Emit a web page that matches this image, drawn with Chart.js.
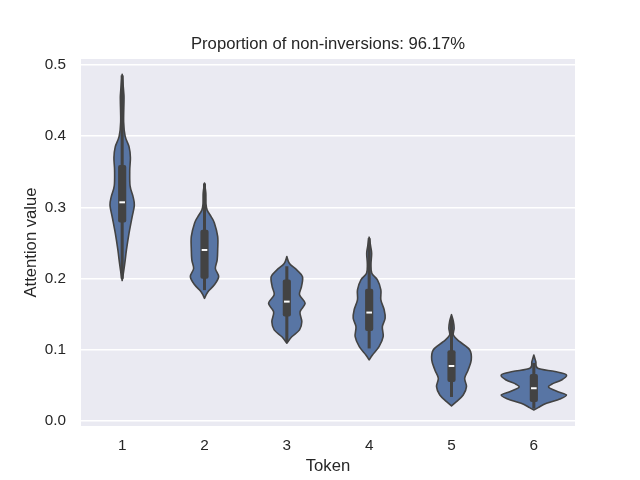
<!DOCTYPE html>
<html><head><meta charset="utf-8">
<script src="https://cdn.jsdelivr.net/npm/chart.js@4"></script>
<style>html,body{margin:0;padding:0;background:#fff}</style>
</head><body>
<canvas id="c" width="640" height="480"></canvas>
<script>
const tokens = ['1', '2', '3', '4', '5', '6'];
const yTickValues = [0, 0.1, 0.2, 0.3, 0.4, 0.5];

// violin outlines: attention values (top to bottom) and relative density at each
const token1Values  = [0.487, 0.46, 0.45, 0.42, 0.40, 0.385, 0.37, 0.352, 0.33, 0.315, 0.303, 0.286, 0.264, 0.24, 0.225, 0.21, 0.197];
const token1Density = [0, 0.05, 0.055, 0.045, 0.09, 0.21, 0.25, 0.23, 0.24, 0.33, 0.37, 0.30, 0.21, 0.13, 0.09, 0.045, 0];
const token2Values  = [0.334, 0.32, 0.305, 0.296, 0.287, 0.278, 0.259, 0.24, 0.226, 0.214, 0.2025, 0.191, 0.181, 0.172];
const token2Density = [0, 0.04, 0.045, 0.08, 0.2, 0.3, 0.4, 0.4, 0.385, 0.33, 0.43, 0.3, 0.1, 0];
const token3Values  = [0.2307, 0.221, 0.212, 0.2025, 0.1885, 0.177, 0.165, 0.153, 0.139, 0.1276, 0.118, 0.109];
const token3Density = [0, 0.08, 0.3, 0.475, 0.445, 0.385, 0.555, 0.4, 0.455, 0.385, 0.15, 0];
const token4Values  = [0.258, 0.245, 0.235, 0.22, 0.2073, 0.198, 0.184, 0.17, 0.156, 0.144, 0.132, 0.118, 0.104, 0.0924, 0.0854];
const token4Density = [0, 0.045, 0.075, 0.055, 0.08, 0.25, 0.355, 0.355, 0.455, 0.485, 0.4, 0.425, 0.3, 0.1, 0];
const token5Values  = [0.149, 0.14, 0.13, 0.12, 0.111, 0.0994, 0.0854, 0.0713, 0.0596, 0.0478, 0.036, 0.0267, 0.0207];
const token5Density = [0, 0.055, 0.08, 0.06, 0.25, 0.555, 0.6, 0.505, 0.4, 0.455, 0.355, 0.15, 0];
const token6Values  = [0.0924, 0.083, 0.0736, 0.069, 0.0643, 0.0572, 0.0512, 0.0465, 0.0408, 0.0361, 0.0305, 0.0244, 0.0183, 0.015];
const token6Density = [0, 0.06, 0.12, 0.64, 0.99, 0.84, 0.54, 0.455, 0.73, 0.99, 0.79, 0.385, 0.13, 0];

// inner box statistics
const q1Values     = [0.279, 0.200, 0.147, 0.1266, 0.0549, 0.0267];
const medianValues = [0.307, 0.240, 0.1674, 0.152, 0.0769, 0.0456];
const q3Values     = [0.359, 0.268, 0.198, 0.185, 0.0985, 0.0652];
const whiskerLow   = [0.200, 0.184, 0.111, 0.102, 0.0338, 0.0174];
const whiskerHigh  = [0.485, 0.333, 0.2166, 0.256, 0.145, 0.0807];

const violinValues  = [token1Values, token2Values, token3Values, token4Values, token5Values, token6Values];
const violinDensity = [token1Density, token2Density, token3Density, token4Density, token5Density, token6Density];

const FONT = "'Liberation Sans', Arial, sans-serif";
const TEXT = '#262626';
const GRAY = '#434343';
Chart.defaults.font.family = FONT;
Chart.defaults.color = TEXT;

function spline(ctx, pts, moveFirst) {
  if (moveFirst) ctx.moveTo(pts[0][0], pts[0][1]); else ctx.lineTo(pts[0][0], pts[0][1]);
  for (let i = 0; i < pts.length - 1; i++) {
    const p0 = pts[Math.max(i - 1, 0)], p1 = pts[i], p2 = pts[i + 1], p3 = pts[Math.min(i + 2, pts.length - 1)];
    const c1x = p1[0] + (p2[0] - p0[0]) / 6, c1y = p1[1] + (p2[1] - p0[1]) / 6;
    const c2x = p2[0] - (p3[0] - p1[0]) / 6, c2y = p2[1] - (p3[1] - p1[1]) / 6;
    ctx.bezierCurveTo(c1x, c1y, c2x, c2y, p2[0], p2[1]);
  }
}

const violinPlugin = {
  id: 'violins',
  beforeDraw(chart) {
    const {ctx, chartArea: a} = chart;
    ctx.save();
    ctx.fillStyle = '#EAEAF2';
    ctx.fillRect(a.left, a.top, a.right - a.left, a.bottom - a.top);
    ctx.restore();
  },
  beforeDatasetsDraw(chart) {
    const xs = chart.scales.x, ys = chart.scales.y, ctx = chart.ctx;
    const slot = xs.getPixelForValue(1) - xs.getPixelForValue(0);
    const maxHalf = slot * 0.4;
    ctx.save();
    violinValues.forEach((vals, i) => {
      const cx = xs.getPixelForValue(i);
      const right = vals.map((v, k) => [cx + violinDensity[i][k] * maxHalf, ys.getPixelForValue(v)]);
      const left = vals.map((v, k) => [cx - violinDensity[i][k] * maxHalf, ys.getPixelForValue(v)]).reverse();
      ctx.beginPath();
      spline(ctx, right, true);
      spline(ctx, left, false);
      ctx.closePath();
      ctx.fillStyle = '#5875A4';
      ctx.fill();
      ctx.lineWidth = 1.6;
      ctx.lineJoin = 'round';
      ctx.strokeStyle = GRAY;
      ctx.stroke();
    });
    ctx.restore();
  }
};

new Chart(document.getElementById('c'), {
  type: 'bar',
  data: {
    labels: tokens,
    datasets: [
      {
        label: 'whisker',
        data: whiskerLow.map((l, i) => [l, whiskerHigh[i]]),
        backgroundColor: GRAY,
        barThickness: 2.4,
        grouped: false,
        order: 3
      },
      {
        label: 'box',
        data: q1Values.map((q, i) => [q, q3Values[i]]),
        backgroundColor: GRAY,
        barThickness: 7.5,
        borderRadius: 2,
        borderSkipped: false,
        grouped: false,
        order: 2
      },
      {
        type: 'line',
        label: 'median',
        data: medianValues,
        showLine: false,
        pointStyle: 'line',
        pointRadius: 2.8,
        pointBorderWidth: 2,
        pointBorderColor: '#ffffff',
        borderColor: '#ffffff',
        order: 1
      }
    ]
  },
  options: {
    responsive: false,
    animation: false,
    events: [],
    layout: {padding: {left: 0, right: 65, top: 0, bottom: 0}},
    plugins: {
      legend: {display: false},
      tooltip: {enabled: false},
      title: {
        display: true,
        text: 'Proportion of non-inversions: 96.17%',
        fullSize: false,
        color: TEXT,
        font: {family: FONT, size: 16.67, weight: 'normal'},
        padding: {top: 34, bottom: 5}
      }
    },
    scales: {
      x: {
        type: 'category',
        grid: {display: false, drawTicks: false},
        border: {display: false},
        ticks: {color: TEXT, font: {family: FONT, size: 15.3}, padding: 11},
        title: {display: true, text: 'Token', color: TEXT, font: {family: FONT, size: 16.67}, padding: {top: 0, bottom: 4}},
        afterFit: s => { s.height = 54; }
      },
      y: {
        type: 'linear',
        min: -0.0075,
        max: 0.5085,
        afterBuildTicks: s => { s.ticks = yTickValues.map(v => ({value: v})); },
        grid: {color: '#ffffff', lineWidth: 1.4, drawTicks: false},
        border: {display: false},
        ticks: {color: TEXT, font: {family: FONT, size: 15.3}, padding: 15, callback: v => Number(v).toFixed(1)},
        title: {display: true, text: 'Attention value', color: TEXT, font: {family: FONT, size: 16.67}, padding: {top: 21, bottom: 0}},
        afterFit: s => { s.width = 81; }
      }
    }
  },
  plugins: [violinPlugin]
});
</script>
</body></html>
